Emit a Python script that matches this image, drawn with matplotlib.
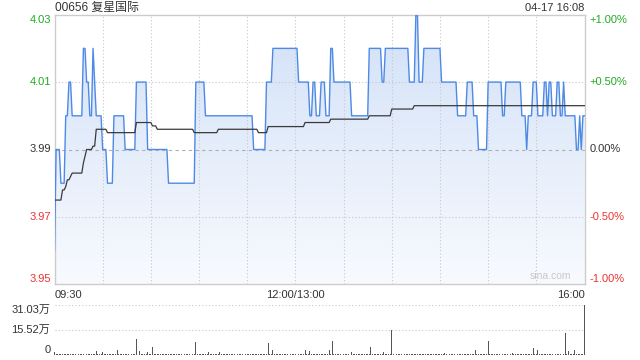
import numpy as np
import matplotlib
matplotlib.use("Agg")
import matplotlib.pyplot as plt
from matplotlib.colors import LinearSegmentedColormap
from matplotlib.patches import Polygon
from matplotlib.transforms import blended_transform_factory

plt.rcParams["font.family"] = ["Liberation Sans", "Noto Sans CJK SC"]

# trading minutes: 09:30-12:00 (150) + 13:00-16:00 (180)
n_minutes = 330
prev_close = 3.99

# price: minute at which each level starts, and the level
price_start = [0, 1, 4, 7, 9, 11, 18, 20, 22, 24, 25, 26, 30, 33, 37, 44, 51, 58, 71, 88,
               94, 124, 132, 136, 152, 159, 161, 163, 166, 169, 172, 174, 185, 196, 204, 206,
               221, 225, 227, 230, 241, 251, 257, 261, 264, 270, 279, 281, 291, 294, 295, 298,
               301, 305, 307, 308, 310, 313, 315, 317, 318, 325, 327, 328, 329]
price_level = [3.96, 3.99, 3.98, 4.00, 4.01, 4.00, 4.02, 4.01, 4.00, 4.02, 4.01, 4.00, 3.99, 3.98,
               4.00, 3.99, 4.01, 3.99, 3.98, 4.01, 4.00, 3.99, 4.01, 4.02, 4.01, 4.00, 4.01, 4.00,
               4.01, 4.00, 4.02, 4.01, 4.00, 4.02, 4.01, 4.02, 4.01, 4.03, 4.01, 4.02, 4.01, 4.00,
               4.01, 4.00, 3.99, 4.01, 4.00, 4.01, 4.00, 3.99, 4.00, 4.01, 4.00, 4.01, 4.00, 4.01,
               4.00, 4.01, 4.00, 4.01, 4.00, 3.99, 4.00, 3.99, 4.00]

# average price line
avg_start = [0, 5, 7, 8, 10, 11, 18, 19, 20, 24, 26, 33, 51, 61, 64, 87, 102, 127, 133, 156,
             172, 196, 210, 224]
avg_level = [3.975, 3.978, 3.979, 3.981, 3.982, 3.983, 3.986, 3.988, 3.990, 3.991, 3.996, 3.995,
             3.998, 3.997, 3.996, 3.995, 3.996, 3.995, 3.9968, 3.998, 3.999, 4.000, 4.002, 4.003]

# volume (万股): the taller bars, the rest sit near the base
vol_minute = [0, 26, 30, 39, 51, 53, 58, 61, 88, 96, 103, 133, 136, 156, 159, 171, 173, 185,
              197, 205, 210, 243, 262, 270, 285, 298, 301, 318, 320, 324, 330]
vol_value = [1.8, 2.4, 1.8, 3.4, 9.7, 2.4, 1.8, 4.9, 8.0, 1.8, 1.8, 7.4, 2.8, 3.4, 2.4, 2.8,
             8.7, 1.8, 4.9, 1.8, 15.4, 1.2, 3.4, 8.5, 1.2, 4.3, 2.8, 13.7, 2.2, 3.4, 31.03]
base_vol = 0.4
vol_max = 31.03

x_ticks = [0, 150, 330]
x_labels = ["09:30", "12:00/13:00", "16:00"]


def steps(starts, levels, n):
    out = np.empty(n + 1)
    for s, v in zip(starts, levels):
        out[s:] = v
    return out


minutes = np.arange(n_minutes + 1)
price = steps(price_start, price_level, n_minutes)
avg = steps(avg_start, avg_level, n_minutes)
vols = np.full(n_minutes + 1, base_vol)
vols[vol_minute] = vol_value

ylo, yhi = prev_close * 0.99, prev_close * 1.01

fig = plt.figure(figsize=(6.4, 3.6), dpi=100)
ax = fig.add_axes([54.5 / 640, 1 - 284 / 360, 530 / 640, 269 / 360])
vax = fig.add_axes([54.5 / 640, 1 - 355 / 360, 530 / 640, 50 / 360])

ax.set_xlim(0, n_minutes)
ax.set_ylim(ylo, yhi)

# gradient fill under the price line
cmap = LinearSegmentedColormap.from_list("fill", ["#f8fafe", "#d2e1f8"])
im = ax.imshow(np.linspace(1, 0, 256).reshape(-1, 1), cmap=cmap, aspect="auto",
               extent=[0, n_minutes, ylo, yhi], origin="upper", zorder=1)
verts = np.column_stack([np.r_[minutes, n_minutes, 0], np.r_[price, ylo, ylo]])
clip = Polygon(verts, closed=True, facecolor="none", edgecolor="none")
ax.add_patch(clip)
im.set_clip_path(clip)

for m in range(30, n_minutes, 30):
    ax.axvline(m, color="#c8c8c8", lw=0.8, ls=(0, (1, 2)), zorder=2)
for y in [3.97, 4.01]:
    ax.axhline(y, color="#c8c8c8", lw=0.8, ls=(0, (1, 2)), zorder=2)
ax.axhline(prev_close, color="#b0b0b0", lw=0.8, ls=(0, (3, 3)), zorder=2)

ax.plot(minutes, price, color="#4d8ae6", lw=1.0, zorder=4)
ax.plot(minutes, avg, color="#3a3a3a", lw=0.9, zorder=5)

ax.set_xticks([])
ax.set_yticks([])
for s in ax.spines.values():
    s.set_color("#cccccc")
    s.set_linewidth(1.0)

green, red, dark = "#22aa22", "#ee3333", "#333333"
left_tr = blended_transform_factory(ax.transAxes, ax.transData)
left_labels = [(yhi, "4.03", green, "top"), (4.01, "4.01", green, "center"),
               (3.99, "3.99", dark, "center"), (3.97, "3.97", red, "center"),
               (ylo, "3.95", red, "bottom")]
right_labels = [(yhi, "+1.00%", green, "top"), (4.01, "+0.50%", green, "center"),
                (3.99, "0.00%", dark, "center"), (3.97, "-0.50%", red, "center"),
                (ylo, "-1.00%", red, "bottom")]
for y, t, c, va in left_labels:
    ax.text(-0.007, y, t, transform=left_tr, ha="right", va=va, color=c, fontsize=8)
for y, t, c, va in right_labels:
    ax.text(1.010, y, t, transform=left_tr, ha="left", va=va, color=c, fontsize=8)

for xt, lab, ha in zip(x_ticks, x_labels, ["left", "center", "right"]):
    ax.text(xt, -0.022, lab, transform=blended_transform_factory(ax.transData, ax.transAxes),
            ha=ha, va="top", color=dark, fontsize=8)

ax.text(0.975, 0.012, "sina.com", transform=ax.transAxes, ha="right", va="bottom",
        color="#c8c8c8", fontsize=7.5)

fig.text(55 / 640, 1 - 8 / 360, "00656 复星国际", ha="left", va="center", color=dark, fontsize=8.6)
fig.text(584 / 640, 1 - 8 / 360, "04-17 16:08", ha="right", va="center", color=dark, fontsize=8)

# volume panel
vax.set_xlim(0, n_minutes)
vax.set_ylim(0, vol_max)
vax.bar(minutes, vols, width=0.6, color="#555555", clip_on=False, zorder=3)
for y in [vol_max / 2, vol_max]:
    vax.axhline(y, color="#c8c8c8", lw=0.8, ls=(0, (1, 2)), zorder=1)
vax.set_xticks([])
vax.set_yticks([])
for s in vax.spines.values():
    s.set_visible(False)
vtr = blended_transform_factory(vax.transAxes, vax.transData)
for y, t, va in [(vol_max, "31.03万", "top"), (vol_max / 2, "15.52万", "center"), (0, "0", "bottom")]:
    vax.text(-0.008, y, t, transform=vtr, ha="right", va=va, color=dark, fontsize=8)

fig.savefig("out.png", dpi=100)
